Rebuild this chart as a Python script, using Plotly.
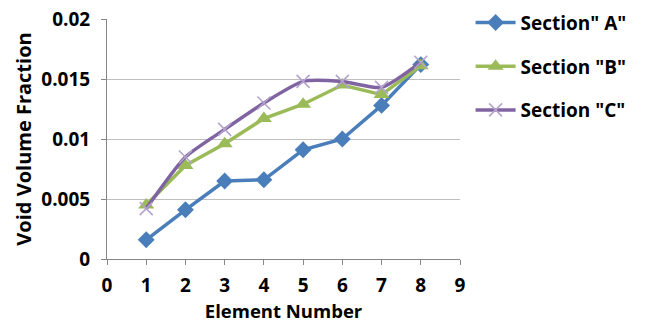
import plotly.graph_objects as go

elements = [1, 2, 3, 4, 5, 6, 7, 8]
section_a = [0.0016, 0.0041, 0.0065, 0.0066, 0.0091, 0.0100, 0.0128, 0.0162]
section_b = [0.0045, 0.0078, 0.0096, 0.0117, 0.0129, 0.0145, 0.0137, 0.0161]
section_c = [0.0042, 0.0085, 0.0108, 0.0130, 0.0148, 0.0148, 0.0143, 0.0164]
names = ['Section" A"', 'Section "B"', 'Section "C"']

fig = go.Figure()
fig.add_trace(go.Scatter(x=elements, y=section_a, name=names[0], mode="lines+markers",
                         legendgroup="a",
                         line=dict(color="#4A7EBB", width=3.5),
                         marker=dict(symbol="diamond", size=13, color="#4A7EBB")))
fig.add_trace(go.Scatter(x=elements, y=section_b, name=names[1], mode="lines+markers",
                         legendgroup="b",
                         line=dict(color="#9BBB59", width=3.5),
                         marker=dict(symbol="triangle-up", size=14, color="#9BBB59")))
fig.add_trace(go.Scatter(x=elements, y=section_c, name=names[2], mode="lines+markers",
                         legendgroup="c",
                         line=dict(color="#8064A2", width=3.5, shape="spline", smoothing=0.6),
                         marker=dict(symbol="x-thin", size=13,
                                     line=dict(color="#B3A2CC", width=1.5))))

font_family = "Open Sans, Liberation Sans, sans-serif"
fig.update_layout(
    width=647, height=324,
    margin=dict(l=107, r=187, t=19, b=65, autoexpand=False),
    paper_bgcolor="white", plot_bgcolor="white",
    font=dict(family=font_family, color="black"),
    legend=dict(x=1.03, y=1.064, xanchor="left", yanchor="top",
                font=dict(size=19, family=font_family, weight="bold"),
                tracegroupgap=16, itemwidth=40),
    xaxis=dict(range=[0, 9], dtick=1, tick0=0, showgrid=False,
               showline=True, linecolor="#868686", linewidth=1,
               ticks="outside", ticklen=5, tickcolor="#868686",
               tickfont=dict(size=19, weight="bold"), ticklabelstandoff=4,
               title=dict(text="Element Number", font=dict(size=18.5, weight="bold"), standoff=8),
               zeroline=False),
    yaxis=dict(range=[0, 0.02], dtick=0.005, showgrid=True, gridcolor="#BFBFBF", gridwidth=1,
               showline=True, linecolor="#868686", linewidth=1,
               ticks="outside", ticklen=5, tickcolor="#868686",
               tickfont=dict(size=19, weight="bold"), ticklabelstandoff=7,
               tickformat="~g",
               title=dict(text="Void Volume Fraction", font=dict(size=20, weight="bold"), standoff=4),
               zeroline=False),
)
fig.write_html("out.html")
